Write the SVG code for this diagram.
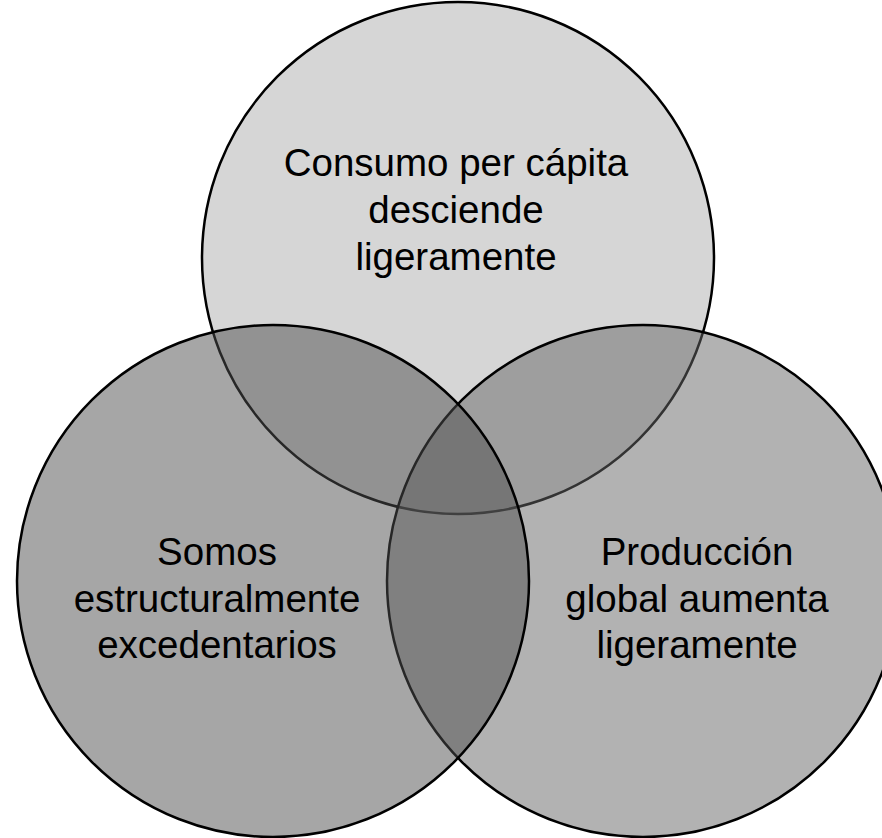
<svg xmlns="http://www.w3.org/2000/svg" width="882" height="838" viewBox="0 0 882 838">
<style>
.c{stroke:#000;stroke-width:2.5;fill-opacity:0.5}
.t{font-family:"Liberation Sans",Arial,sans-serif;font-size:38.5px;fill:#000;text-anchor:middle}
</style>
<rect width="882" height="838" fill="#fff"/>
<g id="node-top">
<circle class="c" cx="458" cy="258" r="256" fill="#adadad"/>
</g>
<g id="node-right">
<circle class="c" cx="643" cy="581" r="256" fill="#656565"/>
</g>
<g id="node-left">
<circle class="c" cx="273" cy="581" r="256" fill="#4d4d4d"/>
</g>
<g id="labels">
<text class="t" x="456" y="176">Consumo per cápita</text>
<text class="t" x="456" y="223">desciende</text>
<text class="t" x="456" y="270">ligeramente</text>
<text class="t" x="217" y="565">Somos</text>
<text class="t" x="217" y="612">estructuralmente</text>
<text class="t" x="217" y="658">excedentarios</text>
<text class="t" x="697" y="565">Producción</text>
<text class="t" x="697" y="612">global aumenta</text>
<text class="t" x="697" y="658">ligeramente</text>
</g>
<g id="connectors"></g>
</svg>
